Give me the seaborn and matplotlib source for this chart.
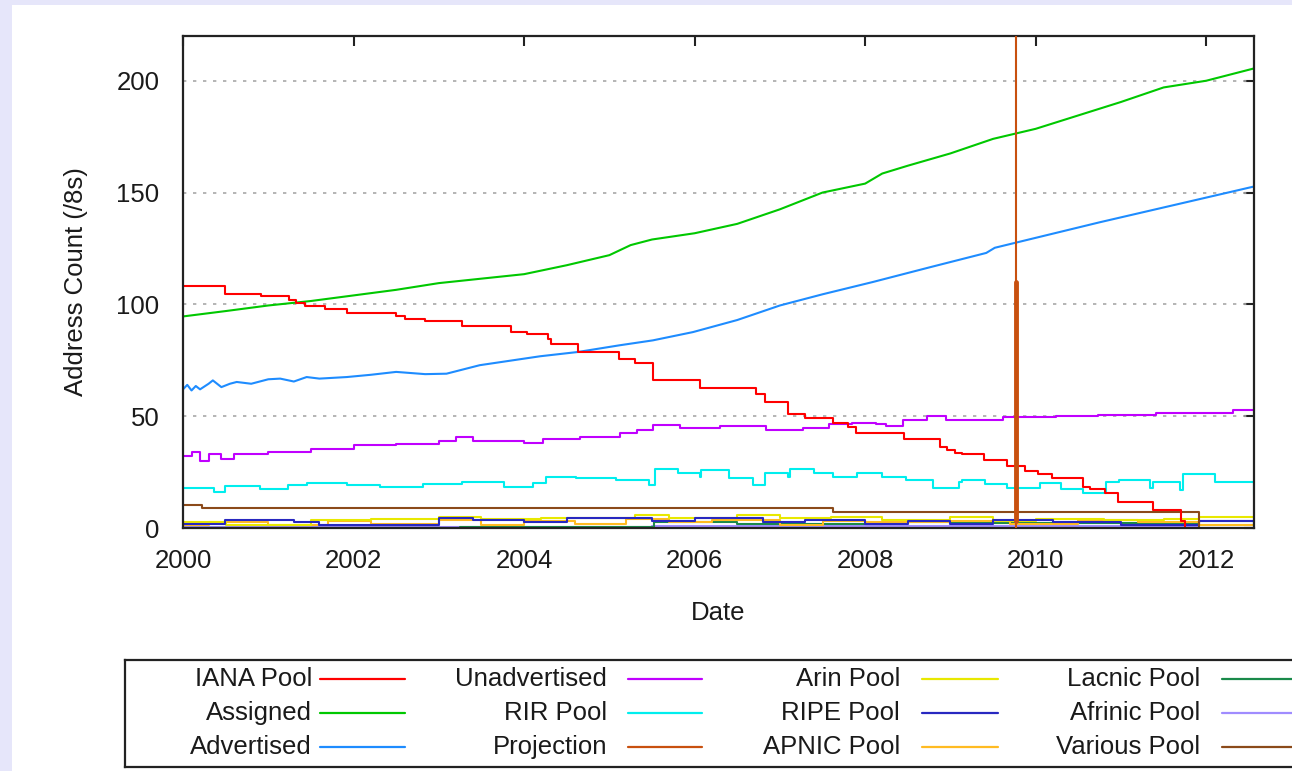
import matplotlib
matplotlib.use("Agg")
import matplotlib.pyplot as plt
from matplotlib.patches import Rectangle
from matplotlib.lines import Line2D
import seaborn as sns
import pandas as pd

# ---------------- data (decimal years, /8 counts) ----------------
iana_x = [2000.0, 2000.49, 2000.92, 2001.24, 2001.33, 2001.43, 2001.66, 2001.92, 2002.5, 2002.6,
          2002.84, 2003.27, 2003.85, 2004.03, 2004.28, 2004.31, 2004.63, 2005.11, 2005.3, 2005.51,
          2006.06, 2006.72, 2006.82, 2007.1, 2007.29, 2007.62, 2007.8, 2007.89, 2008.46, 2008.88,
          2008.96, 2009.05, 2009.13, 2009.39, 2009.66, 2009.88, 2010.03, 2010.19, 2010.55, 2010.64,
          2010.81, 2010.96, 2011.37, 2011.7, 2011.75]
iana_y = [108.2, 104.5, 103.7, 101.8, 100.7, 99.2, 98, 96.3, 95, 93.6,
          92.4, 90.2, 87.6, 86.8, 84.5, 82.4, 78.7, 75.7, 74, 66,
          62.8, 59.8, 56.4, 50.9, 49, 47, 45.2, 42.7, 39.6, 36.3,
          35, 33.5, 33, 30.4, 27.7, 25.6, 24.1, 22.2, 18.2, 17.6,
          15.5, 11.7, 8, 3, 0]

assigned_x = [2000.0, 2000.5, 2001.0, 2001.5, 2002.0, 2002.5, 2003.0, 2003.5, 2004.0, 2004.5,
              2005.0, 2005.25, 2005.5, 2006.0, 2006.5, 2007.0, 2007.5, 2008.0, 2008.2, 2008.5,
              2009.0, 2009.5, 2010.0, 2010.5, 2011.0, 2011.5, 2012.0, 2012.56]
assigned_y = [94.6, 97, 99.5, 101.5, 104, 106.5, 109.5, 111.5, 113.5, 117.5,
              122, 126.5, 129, 131.8, 136, 142.5, 150, 154, 158.5, 162,
              167.5, 174, 178.5, 184.5, 190.5, 197, 200, 205.5]

advertised_x = [2000.0, 2000.05, 2000.1, 2000.15, 2000.2, 2000.3, 2000.35, 2000.45, 2000.55, 2000.63,
                2000.8, 2001.0, 2001.14, 2001.3, 2001.45, 2001.6, 2001.92, 2002.2, 2002.5, 2002.84,
                2003.09, 2003.48, 2003.87, 2004.19, 2004.63, 2005.12, 2005.51, 2005.98, 2006.5, 2007.0,
                2007.5, 2008.09, 2008.76, 2009.42, 2009.52, 2010.75, 2012.56]
advertised_y = [62, 64, 61.5, 63.5, 62, 64.5, 66, 63, 64.5, 65.3,
                64.5, 66.5, 66.8, 65.5, 67.5, 66.8, 67.5, 68.5, 69.8, 68.8,
                69, 72.8, 75, 76.8, 78.7, 81.7, 83.9, 87.6, 93, 99.5,
                104.5, 110, 116.6, 123, 125.3, 136.7, 152.7]

unadv_x = [2000.0, 2000.1, 2000.2, 2000.3, 2000.45, 2000.6, 2001.0, 2001.5, 2002.0, 2002.5,
           2003.0, 2003.2, 2003.4, 2004.0, 2004.22, 2004.65, 2005.12, 2005.32, 2005.51, 2005.83,
           2006.3, 2006.84, 2007.27, 2007.58, 2007.85, 2008.13, 2008.25, 2008.44, 2008.72, 2008.95,
           2009.62, 2010.24, 2010.73, 2011.41, 2012.31, 2012.56]
unadv_y = [32, 34, 30, 33, 31, 33, 34, 35.5, 37, 37.5,
           39, 40.5, 39, 38.1, 40, 40.8, 42.3, 43.7, 46, 44.8,
           45.7, 43.75, 44.9, 46.3, 47, 46.3, 45.5, 48.5, 50, 48.5,
           49.7, 50.1, 50.7, 51.5, 52.7, 52.7]

rir_x = [2000.0, 2000.36, 2000.49, 2000.9, 2001.23, 2001.45, 2001.92, 2002.31, 2002.82, 2003.27,
         2003.76, 2004.1, 2004.26, 2004.61, 2005.08, 2005.47, 2005.53, 2005.8, 2006.06, 2006.07,
         2006.4, 2006.69, 2006.82, 2007.1, 2007.12, 2007.4, 2007.62, 2007.9, 2008.2, 2008.48,
         2008.79, 2009.1, 2009.13, 2009.4, 2009.66, 2010.05, 2010.3, 2010.55, 2010.83, 2010.98,
         2011.34, 2011.37, 2011.69, 2011.73, 2012.1, 2012.56]
rir_y = [17.7, 16.2, 18.9, 17.3, 19.2, 20.2, 19.2, 18.4, 19.6, 20.4,
         18.4, 20, 22.9, 22.2, 21.4, 19.2, 26.6, 24.5, 22.9, 25.9,
         22.5, 19.2, 24.4, 22.9, 26.6, 24.5, 22.9, 24.4, 22.9, 21.4,
         17.7, 20.7, 21.4, 19.5, 17.7, 20, 17.5, 15.5, 20.7, 21.4,
         17.7, 20.7, 17, 24.1, 20.5, 14.7]

proj_x = [2009.77, 2009.77]
proj_thin_y = [0, 230]
proj_thick_y = [3, 110]

arin_x = [2000, 2000.5, 2001.5, 2002.2, 2003.0, 2003.5, 2004.2, 2005.3, 2005.7, 2006.5,
          2007.0, 2007.6, 2008.2, 2009.0, 2009.5, 2010.0, 2010.8, 2011.5, 2011.92, 2012.56]
arin_y = [2.5, 1.5, 3.5, 4.0, 5.0, 4.0, 4.5, 6.0, 4.5, 6.0,
          4.5, 5.0, 3.5, 5.0, 3.0, 4.0, 3.5, 4.0, 5.0, 5.0]

ripe_x = [2000, 2000.49, 2001.3, 2001.6, 2003.0, 2003.4, 2004.0, 2004.5, 2005.5, 2006.0,
          2006.8, 2007.3, 2008.0, 2008.5, 2009.0, 2009.5, 2010.2, 2011.0, 2011.92, 2012.56]
ripe_y = [2.0, 3.8, 2.5, 1.5, 4.5, 3.8, 2.5, 4.5, 3.0, 4.5,
          2.5, 3.5, 2.0, 3.0, 2.0, 3.5, 2.5, 1.5, 3.0, 1.5]

apnic_x = [2000, 2000.3, 2001.0, 2001.7, 2002.2, 2003.0, 2003.5, 2004.0, 2004.6, 2005.2,
           2005.7, 2006.2, 2007.0, 2007.5, 2008.0, 2009.0, 2009.7, 2010.5, 2011.2, 2011.92, 2012.56]
apnic_y = [1.5, 2.5, 1.5, 3.0, 2.0, 3.5, 1.5, 3.0, 2.0, 4.0,
           2.5, 3.5, 1.5, 3.0, 2.5, 3.0, 2.0, 3.5, 2.5, 1.5, 1.5]

lacnic_x = [2000, 2003.25, 2005.52, 2006.5, 2008.2, 2009.5, 2011.92, 2012.56]
lacnic_y = [0, 0.6, 2.5, 2.0, 2.8, 2.2, 3.0, 3.0]

afrinic_x = [2000, 2005.5, 2008.0, 2011.92, 2012.56]
afrinic_y = [0.3, 0.8, 1.0, 1.3, 1.3]

various_x = [2000, 2000.22, 2007.62, 2011.92]
various_y = [10.3, 8.8, 7.0, 0]

legend_labels = ["IANA Pool", "Assigned", "Advertised", "Unadvertised", "RIR Pool", "Projection",
                 "Arin Pool", "RIPE Pool", "APNIC Pool", "Lacnic Pool", "Afrinic Pool", "Various Pool"]
x_ticks = [2000, 2002, 2004, 2006, 2008, 2010, 2012]
y_ticks = [0, 50, 100, 150, 200]

colors = {
    "IANA Pool": "#ff0000", "Assigned": "#00c800", "Advertised": "#1e8cff",
    "Unadvertised": "#c000ff", "RIR Pool": "#00eeee", "Projection": "#c8500f",
    "Arin Pool": "#e8e800", "RIPE Pool": "#2828c0", "APNIC Pool": "#ffbb22",
    "Lacnic Pool": "#1a8a4a", "Afrinic Pool": "#a08cff", "Various Pool": "#8b4a1a",
}

# ---------------- figure ----------------
sns.set_theme(style="white")
plt.rcParams['font.family'] = ['Liberation Sans', 'DejaVu Sans']
FS = 18.5

W, H = 1292, 771
fig = plt.figure(figsize=(W / 100, H / 100), dpi=100, facecolor="#e6e6fa")
bg = Rectangle((12 / W, 0), 1, 1 - 5 / H, transform=fig.transFigure,
               facecolor="white", edgecolor="none", zorder=-10)
fig.add_artist(bg)

ax = fig.add_axes([183 / W, 1 - 528 / H, (1254 - 183) / W, (528 - 36) / H])
ax.set_facecolor("white")

def draw(xs, ys, name, lw=1.5, step=True, z=2):
    df = pd.DataFrame({"x": xs, "y": ys})
    kw = dict(drawstyle="steps-post") if step else {}
    sns.lineplot(data=df, x="x", y="y", ax=ax, color=colors[name], lw=lw,
                 estimator=None, sort=False, legend=False, zorder=z, **kw)

# small pools first (underneath)
draw(afrinic_x, afrinic_y, "Afrinic Pool")
draw(lacnic_x, lacnic_y, "Lacnic Pool")
draw(apnic_x, apnic_y, "APNIC Pool")
draw(arin_x, arin_y, "Arin Pool")
draw(ripe_x, ripe_y, "RIPE Pool")
draw(various_x, various_y, "Various Pool")
draw(rir_x, rir_y, "RIR Pool")
draw(unadv_x, unadv_y, "Unadvertised")
draw(advertised_x, advertised_y, "Advertised", step=False)
draw(assigned_x, assigned_y, "Assigned", step=False)
draw(iana_x, iana_y, "IANA Pool")
draw(proj_x, proj_thin_y, "Projection", lw=1.5, step=False, z=3)
draw(proj_x, proj_thick_y, "Projection", lw=3.5, step=False, z=3)

ax.set_xlim(2000, 2012.56)
ax.set_ylim(0, 220)
ax.set_xticks(x_ticks)
ax.set_xticklabels([str(t) for t in x_ticks])
ax.set_yticks(y_ticks)
ax.set_yticklabels([str(t) for t in y_ticks])
ax.tick_params(axis="both", direction="in", length=7, width=1.5, color="#222222",
               labelsize=FS, top=True, right=True, labelcolor="#1a1a1a")
ax.tick_params(axis="x", pad=15)
ax.tick_params(axis="y", pad=17)
for sp in ax.spines.values():
    sp.set_color("#222222")
    sp.set_linewidth(1.6)
for yv in y_ticks[1:]:
    ax.axhline(yv, color="#a8a8a8", lw=1.2, ls=(0, (2, 4)), zorder=1)
ax.set_xlabel("Date", fontsize=FS, labelpad=20, color="#1a1a1a")
ax.set_ylabel("Address Count (/8s)", fontsize=FS, labelpad=20, color="#1a1a1a")

# ---------------- legend (gnuplot-style: text then line sample) ----------------
lax = fig.add_axes([125 / W, 1 - 767 / H, (1310 - 125) / W, (767 - 660) / H])
lax.set_xlim(125, 1310)
lax.set_ylim(767, 660)
lax.set_facecolor("white")
for sp in lax.spines.values():
    sp.set_color("#222222")
    sp.set_linewidth(1.6)
lax.set_xticks([])
lax.set_yticks([])
rows = [679, 713, 747]
cols = [(312, 320, 405), (607, 628, 702), (900, 922, 998), (1200, 1222, 1300)]
for i, lab in enumerate(legend_labels):
    c, r = divmod(i, 3)
    tx, l0, l1 = cols[c]
    lax.text(tx, rows[r], lab, ha="right", va="center", fontsize=FS, color="#1a1a1a")
    lax.add_line(Line2D([l0, l1], [rows[r], rows[r]], color=colors[lab], lw=1.6))

fig.savefig("out.png", dpi=100, facecolor=fig.get_facecolor())
